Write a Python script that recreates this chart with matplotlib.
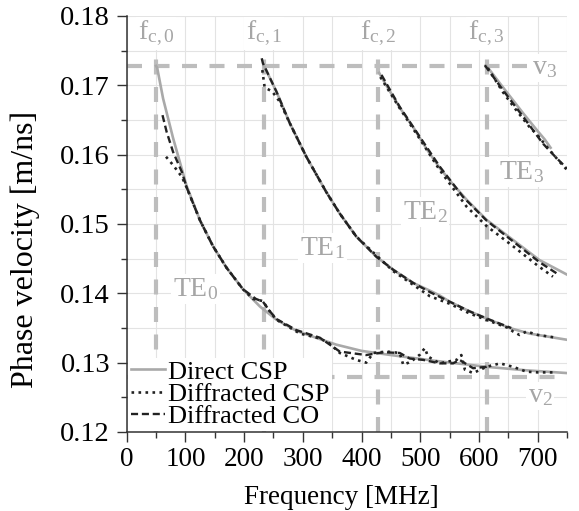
import numpy as np
import matplotlib.pyplot as plt

# cut-off frequencies [MHz] and limit velocities [m/ns]
fc = [50, 234, 428, 613]
v3 = 0.1728
v2 = 0.1280
modes = ['TE0', 'TE1', 'TE2', 'TE3']

# Direct CSP (grey solid)
direct_te0_f = [50, 52, 62, 79, 102, 125, 147, 170, 198, 227, 255, 289, 329, 357, 400, 450, 522, 613, 680, 750]
direct_te0_v = [0.1728, 0.1725, 0.1681, 0.1624, 0.1555, 0.1505, 0.1468, 0.1437, 0.1406, 0.1381, 0.1362, 0.1346,
                0.1334, 0.1326, 0.1317, 0.1311, 0.1303, 0.1294, 0.1289, 0.1285]
direct_te1_f = [234, 255, 278, 306, 340, 363, 391, 425, 454, 488, 516, 533, 550, 584, 618, 652, 686, 750]
direct_te1_v = [0.1728, 0.1691, 0.1645, 0.1597, 0.1546, 0.1515, 0.1482, 0.1453, 0.1434, 0.1415, 0.1404,
                0.1397, 0.1388, 0.1374, 0.1362, 0.1350, 0.1342, 0.1333]
direct_te2_f = [430, 440, 465, 490, 511, 533, 555, 579, 613, 658, 703, 750]
direct_te2_v = [0.1718, 0.1703, 0.1668, 0.1637, 0.1608, 0.1581, 0.1558, 0.1535, 0.1506, 0.1477, 0.1448, 0.1427]
direct_te3_f = [613, 641, 675, 700, 712, 722]
direct_te3_v = [0.1728, 0.1697, 0.1660, 0.1634, 0.1622, 0.1610]

# Diffracted CSP (black dotted)
csp_te0_f = [67, 79, 94, 102, 125, 147, 170, 198, 215, 225, 232, 240, 255, 275, 295, 329, 345, 363, 380, 391, 408,
             420, 443, 465, 471, 480, 488, 500, 505, 508, 513, 533, 550, 562, 570, 576, 590, 613, 636, 658, 681,
             700, 732]
csp_te0_v = [0.1597, 0.1585, 0.1568, 0.1553, 0.1505, 0.1468, 0.1437, 0.1406, 0.1392, 0.1390, 0.1389, 0.1378,
             0.1362, 0.1352, 0.1342, 0.1335, 0.1328, 0.1314, 0.1308, 0.1304, 0.1300, 0.1314, 0.1316, 0.1314,
             0.1297, 0.1300, 0.1304, 0.1312, 0.1318, 0.1321, 0.1309, 0.1299, 0.1302, 0.1304, 0.1311, 0.1290,
             0.1285, 0.1294, 0.1299, 0.1294, 0.1287, 0.1286, 0.1286]
csp_te1_f = [231, 235, 248, 261, 278, 306, 340, 363, 391, 454, 516, 550, 584, 618, 650, 658, 669, 681, 700, 732]
csp_te1_v = [0.1722, 0.1697, 0.1691, 0.1676, 0.1645, 0.1597, 0.1546, 0.1515, 0.1482, 0.1432, 0.1396, 0.1385,
             0.1371, 0.1360, 0.1350, 0.1345, 0.1340, 0.1345, 0.1340, 0.1336]
csp_te2_f = [432, 465, 499, 533, 579, 613, 658, 700, 726]
csp_te2_v = [0.1712, 0.1667, 0.1623, 0.1578, 0.1525, 0.1497, 0.1468, 0.1440, 0.1424]
csp_te3_f = [615, 641, 660, 686, 700, 715, 735, 750]
csp_te3_v = [0.1725, 0.1690, 0.1668, 0.1640, 0.1628, 0.1612, 0.1592, 0.1578]

# Diffracted CO (black dashed)
co_te0_f = [61, 68, 79, 94, 102, 125, 147, 170, 198, 220, 232, 245, 255, 289, 329, 363, 390, 408, 437, 465, 482,
            505, 533, 556, 567, 590, 613, 620]
co_te0_v = [0.1657, 0.1633, 0.1604, 0.1575, 0.1553, 0.1505, 0.1468, 0.1437, 0.1406, 0.1392, 0.1388, 0.1373,
            0.1363, 0.1347, 0.1336, 0.1316, 0.1313, 0.1311, 0.1315, 0.1314, 0.1306, 0.1304, 0.1299, 0.1299,
            0.1304, 0.1292, 0.1294, 0.1296]
co_te1_f = [230, 232, 255, 278, 306, 340, 363, 391, 425, 454, 488, 516, 550, 584, 618, 655]
co_te1_v = [0.1739, 0.1732, 0.1691, 0.1645, 0.1597, 0.1546, 0.1515, 0.1482, 0.1453, 0.1434, 0.1415, 0.1402,
            0.1388, 0.1374, 0.1362, 0.1350]
co_te2_f = [434, 465, 499, 533, 573, 613, 658, 703, 732]
co_te2_v = [0.1715, 0.1669, 0.1626, 0.1583, 0.1539, 0.1505, 0.1475, 0.1445, 0.1429]
co_te3_f = [610, 641, 675, 709, 730, 750]
co_te3_v = [0.1729, 0.1693, 0.1655, 0.1616, 0.1597, 0.1580]

# label positions (MHz, m/ns)
te_label_f = [79, 295, 470, 635]
te_label_v = [0.1406, 0.1465, 0.1517, 0.1575]

plt.rcParams['font.family'] = 'Liberation Serif'
plt.rcParams['mathtext.fontset'] = 'custom'
plt.rcParams['mathtext.rm'] = 'Liberation Serif'
plt.rcParams['mathtext.it'] = 'Liberation Serif'

grey = '#a9a9a9'
refc = '#bdbdbd'
txtc = '#a6a6a6'
dark = '#222222'

fig = plt.figure(figsize=(5.79, 5.11), dpi=100)
ax = fig.add_axes([0.2188, 0.1546, 0.7605, 0.8141])

# reference lines
for f in fc:
    ax.plot([f, f], [0.12, 0.1745], color=refc, lw=3, dashes=(3.6, 3.0), zorder=1)
ax.axhline(v3, color=refc, lw=3, dashes=(3.6, 3.0), zorder=1)
ax.axhline(v2, color=refc, lw=3, dashes=(3.6, 3.0), zorder=1)

direct = [(direct_te0_f, direct_te0_v), (direct_te1_f, direct_te1_v),
          (direct_te2_f, direct_te2_v), (direct_te3_f, direct_te3_v)]
csp = [(csp_te0_f, csp_te0_v), (csp_te1_f, csp_te1_v), (csp_te2_f, csp_te2_v), (csp_te3_f, csp_te3_v)]
co = [(co_te0_f, co_te0_v), (co_te1_f, co_te1_v), (co_te2_f, co_te2_v), (co_te3_f, co_te3_v)]

for i in range(4):
    ax.plot(*direct[i], color=grey, lw=1.9, zorder=2, label='Direct CSP' if i == 0 else None)
    ax.plot(*csp[i], color=dark, lw=1.9, ls=':', zorder=3, label='Diffracted CSP' if i == 0 else None)
    ax.plot(*co[i], color=dark, lw=1.7, dashes=(3, 1.6), zorder=4, label='Diffracted CO' if i == 0 else None)

box = dict(facecolor='white', edgecolor='none', pad=1.5)
for i in range(4):
    ax.text(fc[i], 0.1766, r'$\mathrm{f}_{\mathrm{c,%d}}$' % i, color=txtc, fontsize=20,
            ha='center', va='baseline', zorder=6, bbox=box)
    ax.text(te_label_f[i], te_label_v[i], r'$\mathrm{TE}_{%d}$' % i, color=txtc, fontsize=20,
            ha='left', va='center', zorder=6, bbox=box)
ax.text(690, v3 - 0.0003, r'$\mathrm{v}_{3}$', color=txtc, fontsize=20, ha='left', va='center', zorder=6, bbox=box)
ax.text(683, 0.1252, r'$\mathrm{v}_{2}$', color=txtc, fontsize=20, ha='left', va='center', zorder=6, bbox=box)

ax.set_xlim(0, 750)
ax.set_ylim(0.12, 0.18)
ax.set_xticks(np.arange(0, 701, 100))
ax.set_xticks(np.arange(0, 751, 50), minor=True)
ax.set_yticks(np.arange(0.12, 0.1801, 0.01))
ax.set_yticks(np.arange(0.12, 0.1801, 0.005), minor=True)
ax.set_yticklabels(['%.2f' % t for t in np.arange(0.12, 0.1801, 0.01)])
ax.grid(which='both', color='#e3e3e3', lw=0.8)
ax.set_axisbelow(True)

ax.spines['top'].set_visible(False)
ax.spines['right'].set_visible(False)
for s in ['left', 'bottom']:
    ax.spines[s].set_linewidth(1.1)
    ax.spines[s].set_color('#333333')
ax.tick_params(which='major', direction='out', length=7, width=1, labelsize=19.5, color='#333333')
ax.tick_params(axis='y', which='major', pad=5, labelsize=20.5)
ax.tick_params(which='minor', direction='out', length=4, width=1, color='#333333')

ax.set_xlabel('Frequency [MHz]', fontsize=19.5)
ax.set_ylabel('Phase velocity [m/ns]', fontsize=23)
ax.xaxis.set_label_coords(0.488, -0.128)
ax.yaxis.set_label_coords(-0.197, 0.44)

leg = ax.legend(loc='lower left', fontsize=19, frameon=True, facecolor='white', edgecolor='none',
                framealpha=1, fancybox=False, borderaxespad=0.05, borderpad=0.1, handlelength=1.3,
                handletextpad=0.12, labelspacing=-0.05)
leg.set_zorder(10)

plt.savefig('out.png', dpi=100)
